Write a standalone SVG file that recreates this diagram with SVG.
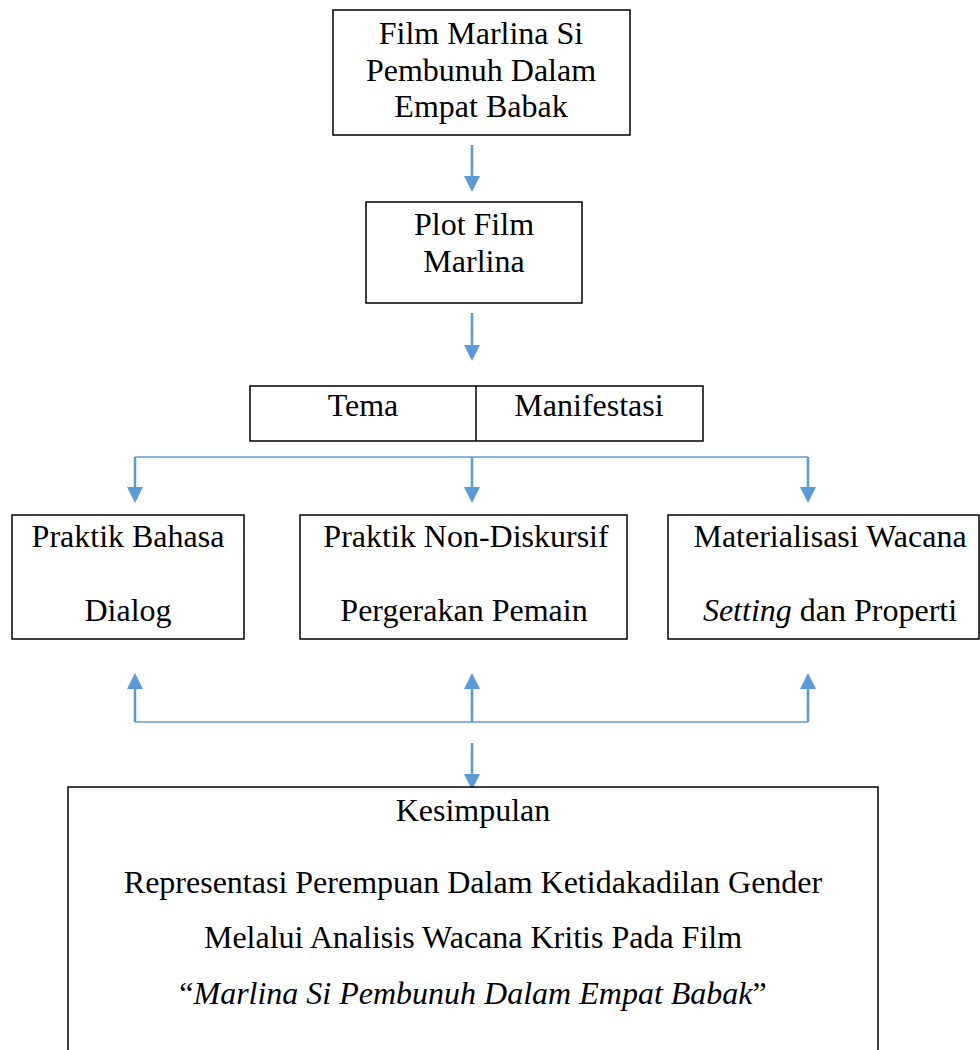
<svg xmlns="http://www.w3.org/2000/svg" width="980" height="1050" viewBox="0 0 980 1050">
  <style>
    .box { fill: #ffffff; stroke: #000000; stroke-width: 1.5; }
    .t { font-family: "Liberation Serif", "Times New Roman", serif; font-size: 32px; fill: #000000; text-anchor: middle; }
    .it { font-style: italic; }
    .arr { stroke: #5B9BD5; stroke-width: 2.5; fill: none; }
    .bus { stroke: #5B9BD5; stroke-width: 1.6; fill: none; }
  </style>
  <defs>
    <marker id="head" viewBox="0 0 16 16" refX="0" refY="8" markerWidth="16" markerHeight="16" markerUnits="userSpaceOnUse" orient="auto">
      <path d="M0,0 L16,8 L0,16 z" fill="#5B9BD5"/>
    </marker>
  </defs>
  <rect width="980" height="1050" fill="#ffffff"/>

  <g id="connectors">
    <line class="arr" x1="472" y1="145" x2="472" y2="176" marker-end="url(#head)"/>
    <line class="arr" x1="472" y1="313" x2="472" y2="345" marker-end="url(#head)"/>
    <line class="bus" x1="135" y1="457" x2="808" y2="457"/>
    <line class="arr" x1="135" y1="457" x2="135" y2="487" marker-end="url(#head)"/>
    <line class="arr" x1="472" y1="457" x2="472" y2="487" marker-end="url(#head)"/>
    <line class="arr" x1="808" y1="457" x2="808" y2="487" marker-end="url(#head)"/>
    <line class="bus" x1="135" y1="722" x2="808" y2="722"/>
    <line class="arr" x1="135" y1="722" x2="135" y2="689" marker-end="url(#head)"/>
    <line class="arr" x1="472" y1="722" x2="472" y2="689" marker-end="url(#head)"/>
    <line class="arr" x1="808" y1="722" x2="808" y2="689" marker-end="url(#head)"/>
    <line class="arr" x1="472" y1="743" x2="472" y2="774" marker-end="url(#head)"/>
  </g>

  <g id="film">
    <rect class="box" x="333" y="10" width="297" height="125"/>
    <text class="t" x="481" y="44">Film Marlina Si</text>
    <text class="t" x="481" y="81">Pembunuh Dalam</text>
    <text class="t" x="481" y="117">Empat Babak</text>
  </g>

  <g id="plot">
    <rect class="box" x="366" y="202" width="216" height="101"/>
    <text class="t" x="474" y="235">Plot Film</text>
    <text class="t" x="474" y="272">Marlina</text>
  </g>

  <g id="tema">
    <rect class="box" x="250" y="386" width="453" height="55"/>
    <line x1="476" y1="386" x2="476" y2="441" stroke="#000" stroke-width="1.5"/>
    <text class="t" x="363" y="416">Tema</text>
    <text class="t" x="589" y="416">Manifestasi</text>
  </g>

  <g id="bahasa">
    <rect class="box" x="12" y="515" width="232" height="124"/>
    <text class="t" x="128" y="547">Praktik Bahasa</text>
    <text class="t" x="128" y="621">Dialog</text>
  </g>

  <g id="nondiskursif">
    <rect class="box" x="300" y="515" width="327" height="124"/>
    <text class="t" x="466" y="547">Praktik Non-Diskursif</text>
    <text class="t" x="464" y="621">Pergerakan Pemain</text>
  </g>

  <g id="materialisasi">
    <rect class="box" x="668" y="515" width="311" height="124"/>
    <text class="t" x="830" y="547">Materialisasi Wacana</text>
    <text class="t" x="830" y="621"><tspan class="it">Setting</tspan> dan Properti</text>
  </g>

  <g id="kesimpulan">
    <rect class="box" x="68" y="787" width="810" height="300"/>
    <text class="t" x="473" y="821">Kesimpulan</text>
    <text class="t" x="473" y="893">Representasi Perempuan Dalam Ketidakadilan Gender</text>
    <text class="t" x="473" y="948">Melalui Analisis Wacana Kritis Pada Film</text>
    <text class="t" x="473" y="1004">“<tspan class="it">Marlina Si Pembunuh Dalam Empat Babak</tspan>”</text>
  </g>
</svg>
